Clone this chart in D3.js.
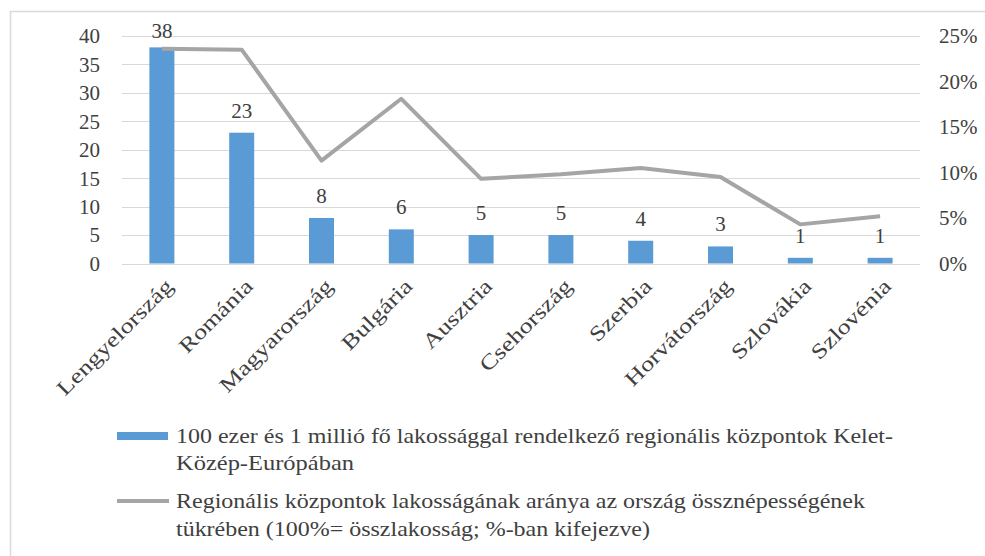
<!DOCTYPE html>
<html><head><meta charset="utf-8">
<script src="https://cdn.jsdelivr.net/npm/d3@7"></script>
<style>body{margin:0;background:#fff}svg{display:block}svg text{font-family:'Liberation Serif',Tinos,'Times New Roman',serif}</style>
</head><body>
<svg id="c" width="985" height="556"></svg>
<script>
const categories = ["Lengyelország","Románia","Magyarország","Bulgária","Ausztria","Csehország","Szerbia","Horvátország","Szlovákia","Szlovénia"];
const centers = [38,23,8,6,5,5,4,3,1,1];
const shares = [0.236,0.235,0.113,0.181,0.093,0.098,0.105,0.095,0.043,0.052];
const leftTicks = [0,5,10,15,20,25,30,35,40];
const rightTicks = [0,0.05,0.10,0.15,0.20,0.25];
const legendBar = ["100 ezer és 1 millió fő lakossággal rendelkező regionális központok Kelet-","Közép-Európában"];
const legendLine = ["Regionális központok lakosságának aránya az ország össznépességének","tükrében (100%= összlakosság; %-ban kifejezve)"];

const svg = d3.select("#c");
const txt = "#404040";
const m = {l:122, r:920, t:36, b:263.5};
const x = d3.scaleBand().domain(categories).range([m.l, m.r]);
const y = d3.scaleLinear().domain([0,40]).range([m.b, m.t]);
const y2 = d3.scaleLinear().domain([0,0.25]).range([m.b, m.t]);
const cx = c => x(c) + x.bandwidth()/2;
const bw = 25;

svg.append("rect").attr("x",10.5).attr("y",11.5).attr("width",990).attr("height",560).attr("fill","none").attr("stroke","#d9d9d9").attr("stroke-width",1.5);

svg.append("g").selectAll("line").data(leftTicks).join("line")
  .attr("x1",m.l).attr("x2",m.r).attr("y1",d=>Math.round(y(d))+0.5).attr("y2",d=>Math.round(y(d))+0.5)
  .attr("stroke","#d9d9d9").attr("stroke-width",1);

svg.append("g").selectAll("text").data(leftTicks).join("text")
  .attr("x",100).attr("y",d=>y(d)).attr("dy","0.35em").attr("text-anchor","end")
  .attr("font-size",21).attr("fill",txt).text(d=>d);
svg.append("g").selectAll("text").data(rightTicks).join("text")
  .attr("x",939).attr("y",d=>y2(d)).attr("dy","0.35em").attr("text-anchor","start")
  .attr("font-size",21).attr("fill",txt).text(d=>d3.format(".0%")(d));

svg.append("g").selectAll("rect").data(categories).join("rect")
  .attr("x",d=>cx(d)-bw/2).attr("width",bw)
  .attr("y",(d,i)=>y(centers[i])).attr("height",(d,i)=>y(0)-y(centers[i]))
  .attr("fill","#5b9bd5");

const line = d3.line().x(d=>cx(d[0])).y(d=>y2(d[1]));
svg.append("path").datum(categories.map((c,i)=>[c,shares[i]]))
  .attr("d",line).attr("fill","none").attr("stroke","#a5a5a5").attr("stroke-width",4).attr("stroke-linejoin","round");

svg.append("g").selectAll("text").data(categories).join("text")
  .attr("x",d=>cx(d)).attr("y",(d,i)=>Math.max(y(centers[i])-15, 38))
  .attr("text-anchor","middle").attr("font-size",21).attr("fill",txt).text((d,i)=>centers[i]);

svg.append("g").selectAll("text").data(categories).join("text")
  .attr("transform",d=>`translate(${cx(d)+8},${283}) rotate(-45)`)
  .attr("text-anchor","end").attr("dy","0.3em").attr("font-size",21).attr("fill",txt).text(d=>d)
  .each(function(){ const w=this.getComputedTextLength(); d3.select(this).attr("textLength",w*1.25).attr("lengthAdjust","spacingAndGlyphs"); });

const legendWidths1 = [717,178], legendWidths2 = [689,474];
const lg = svg.append("g");
lg.append("rect").attr("x",117).attr("y",432).attr("width",51).attr("height",8).attr("fill","#5b9bd5");
lg.append("g").selectAll("text").data(legendBar).join("text")
  .attr("x",176).attr("y",(d,i)=>443+i*26.5).attr("font-size",21).attr("fill",txt)
  .attr("textLength",(d,i)=>legendWidths1[i]).attr("lengthAdjust","spacingAndGlyphs").text(d=>d);
lg.append("line").attr("x1",117).attr("x2",169).attr("y1",501).attr("y2",501).attr("stroke","#a5a5a5").attr("stroke-width",4);
lg.append("g").selectAll("text").data(legendLine).join("text")
  .attr("x",176).attr("y",(d,i)=>508+i*28).attr("font-size",21).attr("fill",txt)
  .attr("textLength",(d,i)=>legendWidths2[i]).attr("lengthAdjust","spacingAndGlyphs").text(d=>d);
</script>
</body></html>
